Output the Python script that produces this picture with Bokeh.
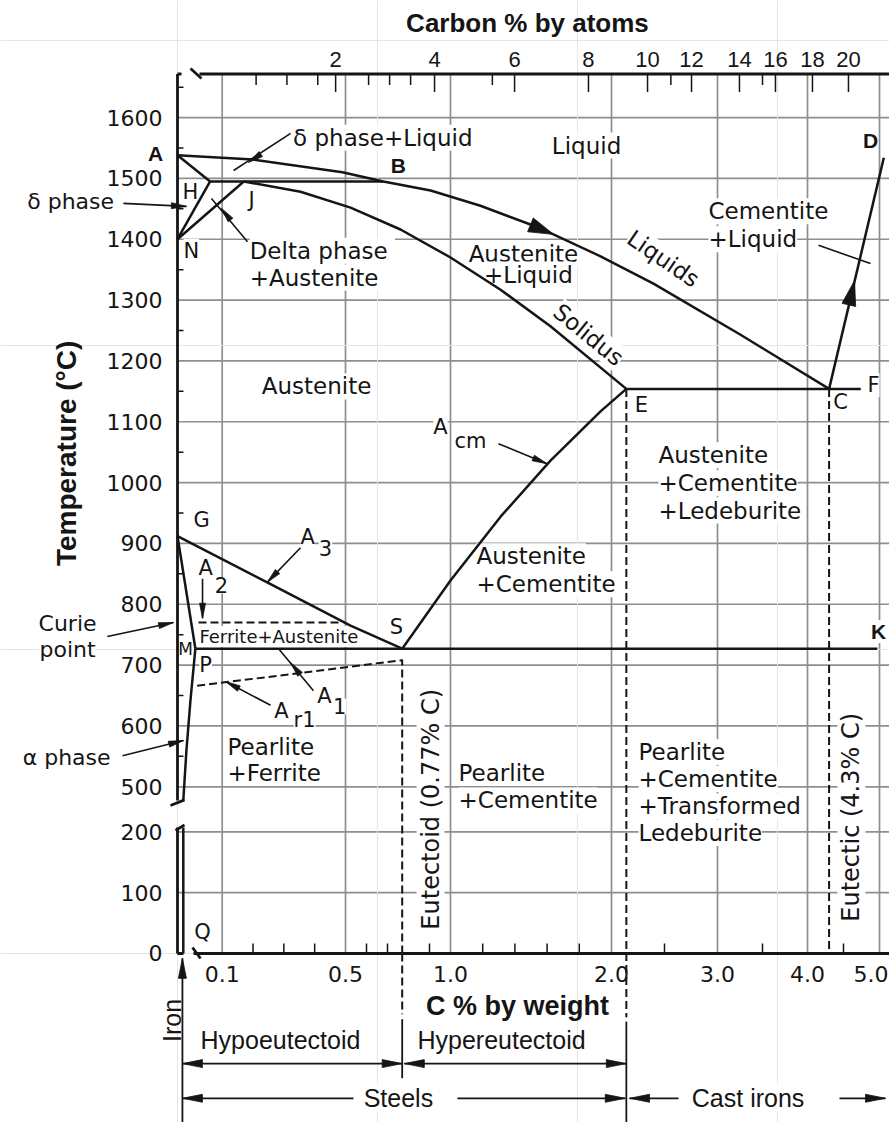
import numpy as np
from bokeh.plotting import figure
from bokeh.models import Range1d, Label
from bokeh.core.properties import value
from bokeh.embed import file_html
from bokeh.resources import INLINE

# ---------------- phase boundaries: carbon (wt %) and temperature (deg C) ----------------
liquidus_wt = [0.0, 0.20, 0.49, 0.68, 0.905, 1.186, 1.559, 1.932, 2.396, 3.256, 4.30]
liquidus_T = [1538, 1531, 1510, 1495, 1480, 1455, 1418, 1372, 1327, 1243, 1154]
delta_AH_wt = [0.0, 0.073]
delta_AH_T = [1538, 1495]
delta_HN_wt = [0.073, 0.0]
delta_HN_T = [1495, 1400]
gamma_NJ_wt = [0.0, 0.17]
gamma_NJ_T = [1400, 1495]
peritectic_wt = [0.073, 0.68]
peritectic_T = [1495, 1495]
solidus_wt = [0.17, 0.354, 0.524, 0.762, 1.0, 1.311, 1.621, 2.14]
solidus_T = [1495, 1478, 1452, 1416, 1370, 1317, 1257, 1154]
eutectic_wt = [2.14, 4.74]
eutectic_T = [1154, 1154]
cementite_CD_wt = [4.30, 5.06]
cementite_CD_T = [1154, 1534]
acm_wt = [0.77, 1.0, 1.311, 1.621, 1.932, 2.14]
acm_T = [727, 839, 944, 1036, 1117, 1154]
a3_wt = [0.0, 0.246, 0.524, 0.77]
a3_T = [912, 836, 765, 727]
gp_wt = [0.0, 0.04]
gp_T = [912, 727]
alpha_solvus_wt = [0.04, 0.029, 0.020, 0.013]
alpha_solvus_T = [727, 642, 560, 410]
alpha_low_wt = [0.013, 0.013]
alpha_low_T = [228, 0]
eutectoid_wt = [0.04, 4.97]
eutectoid_T = [727, 727]
a2_wt = [0.047, 0.484]
a2_T = [770, 770]
ar1_wt = [0.044, 0.77, 0.77]
ar1_T = [666, 708, 0]
e_line_wt = [2.14, 2.14]
e_line_T = [1154, -105]
c_line_wt = [4.30, 4.30]
c_line_T = [1154, 0]

# ---------------- axes ----------------
temp_ticks = [0, 100, 200, 500, 600, 700, 800, 900, 1000, 1100, 1200, 1300, 1400, 1500, 1600]
temp_minor = [550, 650, 750, 850, 950, 1050, 1150, 1250, 1350, 1450, 1550, 1650]
wt_ticks = [0.1, 0.5, 1.0, 2.0, 3.0, 4.0, 5.0]
wt_tick_labels = ["0.1", "0.5", "1.0", "2.0", "3.0", "4.0", "5.0"]
wt_minor = [0.2, 0.3, 0.4, 0.6, 0.7, 0.9, 1.2, 1.4, 1.6, 1.8, 2.5, 3.5, 4.5]
atom_tick_labels = ["2", "4", "6", "8", "10", "12", "14", "16", "18", "20"]
atom_tick_wt = [0.468, 0.924, 1.398, 1.857, 2.34, 2.755, 3.244, 3.644, 4.069, 4.569]
atom_minor_wt = [0.21, 0.31, 0.41, 0.61, 0.71, 0.81, 1.26, 2.56, 3.5]

# the diagram's own non-linear x scale and broken temperature scale
SCALE_WT = [0, 0.1, 0.5, 1.0, 2.0, 3.0, 4.0, 5.0]
SCALE_X = [0, 44.7, 168, 273, 434, 540, 630, 702]
KY = 0.6084


def X(w):
    w = np.asarray(w, dtype=float)
    x = np.interp(w, SCALE_WT, SCALE_X)
    x = np.where(w < 0, w * 447.0, x)
    x = np.where(w > 5, 702 + (w - 5) * 72.0, x)
    return x


def Y(t):
    t = np.asarray(t, dtype=float)
    return np.interp(t, [-1000, 200, 500, 3000], [-1000, 200, 274, 2774])


INK = "#151515"
GRID = "#8e8e8e"
REG = "DejaVu Sans"
SANS = "Liberation Sans"
TOP_D = 1445.6
XMAX = 712.0

p = figure(width=889, height=1122, x_range=Range1d(-177, XMAX), y_range=Range1d(-277.8, 1566.4),
           toolbar_location=None, output_backend="svg", x_axis_location=None,
           y_axis_location=None, min_border=0, title=None)
p.outline_line_color = None
p.background_fill_color = "white"

# grid
gx = X(wt_ticks)
p.segment(x0=gx, y0=np.zeros_like(gx), x1=gx, y1=np.full_like(gx, TOP_D),
          line_color=GRID, line_width=1.7, level="image")
gy = Y(temp_ticks[1:])
p.segment(x0=np.zeros_like(gy), y0=gy, x1=np.full_like(gy, XMAX), y1=gy,
          line_color=GRID, line_width=1.7, level="image")

# axis lines with break marks
axis_segs = [(22, TOP_D, XMAX, TOP_D), (0, TOP_D, 4, TOP_D), (13, 1454.6, 24, 1438.2),
             (0, TOP_D, 0, 251.5), (-7, 243.3, 7, 252.5), (0, 207, 0, 0),
             (-2, 202.2, 7, 211.5), (0, 0, 6, 0), (16, 0, XMAX, 0), (15, 9.9, 23, -8.2)]
a = np.array(axis_segs, dtype=float)
p.segment(x0=a[:, 0], y0=a[:, 1], x1=a[:, 2], y1=a[:, 3], line_color=INK, line_width=2.8)

# ticks
xt = X(atom_tick_wt)
p.segment(x0=xt, y0=np.full_like(xt, TOP_D), x1=xt, y1=np.full_like(xt, TOP_D - 18 / KY),
          line_color=INK, line_width=1.5)
xm = X(atom_minor_wt)
p.segment(x0=xm, y0=np.full_like(xm, TOP_D), x1=xm, y1=np.full_like(xm, TOP_D - 11 / KY),
          line_color=INK, line_width=1.5)
xb = X(wt_minor)
p.segment(x0=xb, y0=np.zeros_like(xb), x1=xb, y1=np.full_like(xb, 10 / KY),
          line_color=INK, line_width=1.5)
ym = Y(temp_minor)
p.segment(x0=np.zeros_like(ym), y0=ym, x1=np.full_like(ym, 6.0), y1=ym,
          line_color=INK, line_width=1.5)

# tick labels
p.text(x=np.full(len(temp_ticks), float(X(-0.0336))), y=Y(temp_ticks), text=[str(t) for t in temp_ticks],
       text_font=value(REG), text_font_size="22px", text_align="right", text_baseline="middle",
       text_color=INK)
p.text(x=X(wt_ticks[:-1]), y=np.full(len(wt_ticks) - 1, float(Y(-33))), text=wt_tick_labels[:-1],
       text_font=value(REG), text_font_size="22px", text_align="center", text_baseline="middle",
       text_color=INK)
p.text(x=[XMAX - 1.0], y=[float(Y(-33))], text=wt_tick_labels[-1:],
       text_font=value(REG), text_font_size="22px", text_align="right", text_baseline="middle",
       text_color=INK)
p.text(x=X(atom_tick_wt), y=np.full(len(atom_tick_wt), float(Y(1695))), text=atom_tick_labels,
       text_font=value(SANS), text_font_size="22px", text_align="center", text_baseline="middle",
       text_color=INK)

# phase boundaries
def curve(w, t, dash="solid", width=2.5):
    p.line(X(w), Y(t), line_color=INK, line_width=width, line_dash=dash, line_join="round")

for w, t in [(liquidus_wt, liquidus_T), (delta_AH_wt, delta_AH_T), (delta_HN_wt, delta_HN_T),
             (gamma_NJ_wt, gamma_NJ_T), (peritectic_wt, peritectic_T), (solidus_wt, solidus_T),
             (eutectic_wt, eutectic_T), (cementite_CD_wt, cementite_CD_T), (acm_wt, acm_T),
             (a3_wt, a3_T), (gp_wt, gp_T), (alpha_solvus_wt, alpha_solvus_T),
             (alpha_low_wt, alpha_low_T), (eutectoid_wt, eutectoid_T)]:
    curve(w, t)
for w, t in [(a2_wt, a2_T), (ar1_wt, ar1_T), (e_line_wt, e_line_T), (c_line_wt, c_line_T)]:
    curve(w, t, dash="8 4", width=2.0)
curve([0.77, 0.77], [0, -100], dash="8 4", width=2.0)
curve([0.77, 0.77], [-108, -205], width=1.8)
curve([2.14, 2.14], [-112, -300], width=1.8)

# arrows / leaders
heads_x, heads_y = [], []
def add_head(tail, tip, L=15.0, W=6.0):
    tx, ty = tail
    hx, hy = tip
    dx = hx - tx
    dy = (hy - ty) * KY
    n = (dx * dx + dy * dy) ** 0.5
    ux, uy = dx / n, dy / n
    bx = hx - L * ux
    by = hy * KY - L * uy
    nx, ny = -uy, ux
    heads_x.append([hx, bx + nx * W / 2, bx - nx * W / 2])
    heads_y.append([hy, (by + ny * W / 2) / KY, (by - ny * W / 2) / KY])

leaders = [
    (0.322, 1574, 0.137, 1513, (0.185, 1526)),
    (-0.121, 1459, 0.020, 1454, "end"),
    (0.182, 1396, 0.076, 1467, (0.098, 1451)),
    (0.354, 893, 0.246, 836, "end"),
    (0.056, 842, 0.056, 777, "end"),
    (0.396, 658, 0.283, 727, (0.322, 704)),
    (0.257, 634, 0.111, 673, "end"),
    (-0.157, 747, -0.009, 770, "end"),
    (-0.123, 551, 0.0134, 576, "end"),
    (1.298, 1064, 1.60, 1031, "end"),
    (4.153, 1390, 4.875, 1360, None),
]
lx0, ly0, lx1, ly1 = [], [], [], []
for w0, t0, w1, t1, hd in leaders:
    x0, y0, x1, y1 = float(X(w0)), float(Y(t0)), float(X(w1)), float(Y(t1))
    lx0.append(x0); ly0.append(y0); lx1.append(x1); ly1.append(y1)
    if hd == "end":
        add_head((x0, y0), (x1, y1))
    elif hd is not None:
        add_head((x0, y0), (float(X(hd[0])), float(Y(hd[1]))))
p.segment(x0=lx0, y0=ly0, x1=lx1, y1=ly1, line_color=INK, line_width=1.6)

# direction heads on liquidus and C-D line
add_head((float(X(1.484)), float(Y(1425))), (float(X(1.64)), float(Y(1408))), L=25, W=15)
add_head((float(X(4.568)), float(Y(1289))), (float(X(4.654)), float(Y(1332))), L=25, W=14)

dims = [
    (0.011, -181, 0.77, -181, "both"),
    (0.78, -181, 2.14, -181, "both"),
    (0.538, -238, 0.011, -238, "end"),
    (1.043, -238, 2.13, -238, "end"),
    (2.632, -238, 2.17, -238, "end"),
    (4.444, -238, 5.083, -238, "end"),
    (0.011, -300, 0.011, -8, "end"),
]
dx0, dy0, dx1, dy1 = [], [], [], []
for w0, t0, w1, t1, hd in dims:
    x0, y0, x1, y1 = float(X(w0)), float(Y(t0)), float(X(w1)), float(Y(t1))
    dx0.append(x0); dy0.append(y0); dx1.append(x1); dy1.append(y1)
    add_head((x0, y0), (x1, y1), L=20, W=8)
    if hd == "both":
        add_head((x1, y1), (x0, y0), L=20, W=8)
p.segment(x0=dx0, y0=dy0, x1=dx1, y1=dy1, line_color=INK, line_width=1.8)
p.patches(xs=heads_x, ys=heads_y, fill_color=INK, line_color=INK, line_width=0.8)

# text labels
def label(text, w, t, size=23, font=REG, style="normal", align="center", angle=0.0, bg=True):
    lb = Label(x=float(X(w)), y=float(Y(t)), text=text, text_font=font,
               text_font_size=f"{size}px", text_font_style=style, text_align=align,
               text_baseline="middle", angle=angle, text_color=INK, level="underlay")
    if bg:
        lb.background_fill_color = "white"
        lb.background_fill_alpha = 1.0
    p.add_layout(lb)

regions = [
    ("δ phase+Liquid", 0.33, 1567, "left"),
    ("Liquid", 1.845, 1554, "center"),
    ("Austenite", 1.453, 1375, "center"),
    ("+Liquid", 1.484, 1342, "center"),
    ("Cementite", 2.915, 1446, "left"),
    ("+Liquid", 2.915, 1400, "left"),
    ("Delta  phase", 0.189, 1381, "left"),
    ("+Austenite", 0.189, 1337, "left"),
    ("Austenite", 0.406, 1158, "center"),
    ("Austenite", 2.443, 1045, "left"),
    ("+Cementite", 2.443, 999, "left"),
    ("+Ledeburite", 2.443, 954, "left"),
    ("Austenite", 1.161, 879, "left"),
    ("+Cementite", 1.161, 833, "left"),
    ("Pearlite", 0.117, 566, "left"),
    ("+Ferrite", 0.117, 523, "left"),
    ("Pearlite", 1.05, 523, "left"),
    ("+Cementite", 1.05, 409, "left"),
    ("Pearlite", 2.255, 557, "left"),
    ("+Cementite", 2.255, 513, "left"),
    ("+Transformed", 2.255, 369, "left"),
    ("Ledeburite", 2.255, 198, "left"),
]
for txt, w, t, al in regions:
    label(txt, w, t, align=al)
for txt, w, t in [("δ phase", -0.239, 1462), ("Curie", -0.246, 768), ("point", -0.246, 726),
                  ("α phase", -0.248, 548)]:
    label(txt, w, t, size=22)
label("Ferrite+Austenite", 0.049, 747, size=18, align="left")
label("Liquids", 2.49, 1368, angle=-0.60)
label("Solidus", 1.857, 1243, angle=-0.684)
label("Eutectoid  (0.77% C)", 0.905, 375.5, size=24, angle=np.pi / 2)
label("Eutectic  (4.3% C)", 4.61, 322, size=24, angle=np.pi / 2)

points = [("A", -0.049, 1541, True), ("B", 0.752, 1521, True), ("H", 0.029, 1478, False),
          ("J", 0.195, 1464, False), ("N", 0.031, 1381, False), ("D", 4.875, 1562, True),
          ("C", 4.458, 1132, False), ("E", 2.283, 1128, False), ("F", 4.917, 1160, False),
          ("G", 0.054, 938, False), ("S", 0.743, 763, False), ("K", 4.986, 755, True),
          ("P", 0.063, 701, False), ("Q", 0.056, 34.5, False)]
for txt, w, t, b in points:
    if b:
        label(txt, w, t, size=21, font=SANS, style="bold")
    else:
        label(txt, w, t, size=21)
label("M", 0.018, 727, size=17, bg=False)

subs = [("A", 0.063, 859), ("2", 0.098, 831), ("A", 0.377, 911), ("3", 0.435, 892),
        ("A", 0.432, 650), ("1", 0.481, 632), ("A", 0.292, 625), ("r1", 0.367, 609),
        ("A", 0.952, 1091), ("cm", 1.124, 1069)]
for txt, w, t in subs:
    label(txt, w, t, size=21)

label("Carbon % by atoms", 1.478, 1754.6, size=26, font=SANS, style="bold", bg=False)
label("Temperature (°C)", -0.248, 1048, size=28, font=SANS, style="bold", angle=np.pi / 2, bg=False)
label("C % by weight", 1.416, -85.5, size=27, font=SANS, style="bold", bg=False)
label("Hypoeutectoid", 0.289, -143, size=25, font=SANS, bg=False)
label("Hypereutectoid", 1.317, -143, size=25, font=SANS, bg=False)
label("Steels", 0.752, -237, size=25, font=SANS)
label("Cast  irons", 3.378, -237, size=25, font=SANS)
label("Iron", -0.0134, -110, size=25, font=SANS, angle=np.pi / 2, bg=False)

open("out.html", "w").write(file_html(p, INLINE))
